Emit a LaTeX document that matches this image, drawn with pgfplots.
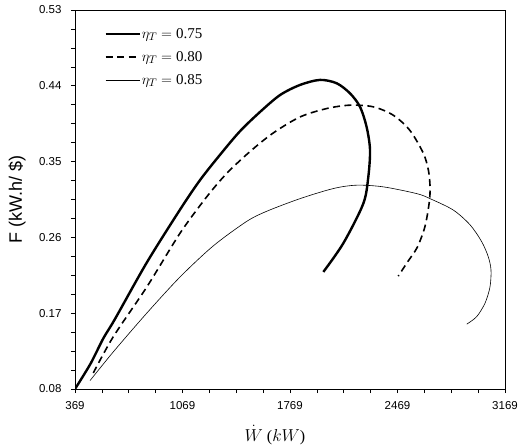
\documentclass[border=0pt]{standalone}
\usepackage{pgfplots}
\pgfplotsset{compat=1.18}
\usepackage{fontspec}
\setmainfont{Liberation Sans}
\newfontfamily\serif{Liberation Serif}
\begin{document}
\begin{tikzpicture}[x=1pt,y=1pt]
\begin{axis}[
  scale only axis,
  width=430pt, height=379pt,
  xmin=369, xmax=3169, ymin=0.08, ymax=0.53,
  xtick={369,1069,1769,2469,3169},
  ytick={0.08,0.17,0.26,0.35,0.44,0.53},
  yticklabels={0.08,0.17,0.26,0.35,0.44,0.53},
  xticklabels={369,1069,1769,2469,3169},
  minor x tick num=3, minor y tick num=3,
  tick align=outside, xtick pos=bottom, ytick pos=left,
  major tick length=4pt, minor tick length=4pt,
  tick style={black, line width=0.6pt},
  axis line style={line width=0.8pt},
  ticklabel style={font=\fontsize{11.5}{13}\selectfont},
  xticklabel style={yshift=-5pt},
  yticklabel style={xshift=-6pt},
  xlabel={{\serif\fontsize{16}{18}\selectfont $\dot W$ ($kW$)}},
  ylabel={\fontsize{18}{20}\selectfont F (kW.h/ \$)},
  xlabel style={at={(axis description cs:0.465,-0.121)}, anchor=center},
  ylabel style={at={(axis description cs:-0.135,0.5)}, anchor=center},
  legend style={at={(axis cs:540,0.512)}, anchor=north west, draw=none, fill=none,
    font=\serif\fontsize{15}{17}\selectfont, row sep=9.5pt,
    nodes={inner sep=1pt}},
  legend cell align=left,
  legend image code/.code={\draw[#1] (0pt,0pt) -- (34pt,0pt);},
]
\addplot[black, line width=2.4pt, smooth, tension=0.5] coordinates {
(369,0.080) (470,0.110) (553,0.140) (629,0.163) (836,0.230) (1053,0.293)
(1183,0.328) (1313,0.358) (1443,0.386) (1574,0.409) (1704,0.429) (1834,0.441)
(1964,0.447) (2073,0.443) (2160,0.431) (2225,0.415) (2268,0.391) (2290,0.364)
(2279,0.332) (2246,0.300) (2116,0.253) (1986,0.219)};
\addlegendentry{$\eta_T = \mbox{0.75}$}
\addplot[black, line width=1.6pt, dash pattern=on 7pt off 4.5pt, smooth, tension=0.5] coordinates {
(488,0.099) (618,0.142) (836,0.201) (1053,0.265) (1226,0.308) (1357,0.336)
(1509,0.362) (1660,0.384) (1834,0.403) (2008,0.413) (2160,0.417) (2312,0.415)
(2442,0.405) (2550,0.387) (2637,0.360) (2670,0.340) (2681,0.320) (2676,0.302)
(2648,0.273) (2597,0.248) (2535,0.231) (2474,0.214)};
\addlegendentry{$\eta_T = \mbox{0.80}$}
\addplot[black, line width=0.6pt, smooth, tension=0.5] coordinates {
(467,0.090) (618,0.124) (836,0.170) (1053,0.213) (1270,0.250) (1487,0.279)
(1617,0.291) (1834,0.306) (2051,0.318) (2203,0.322) (2377,0.320) (2594,0.312)
(2681,0.306) (2832,0.2925) (2941,0.275) (3017,0.255) (3060,0.237) (3078,0.221)
(3071,0.201) (3039,0.182) (2985,0.166) (2920,0.157)};
\addlegendentry{$\eta_T = \mbox{0.85}$}
\end{axis}
\path (current axis.south west) ++(-75pt,-58pt) coordinate (bl);
\path (current axis.north east) ++(18pt,10pt) coordinate (tr);
\useasboundingbox (bl) rectangle (tr);
\end{tikzpicture}
\end{document}
